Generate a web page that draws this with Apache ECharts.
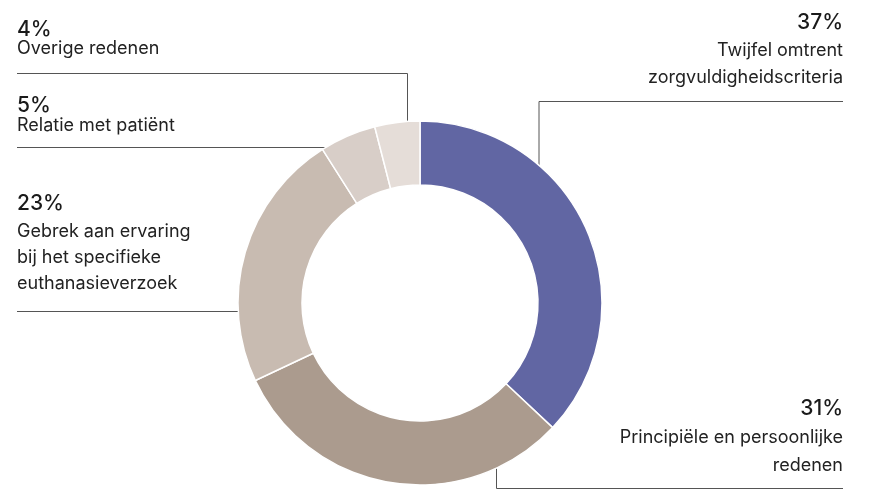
<!DOCTYPE html>
<html>
<head>
<meta charset="utf-8">
<script src="https://cdn.jsdelivr.net/npm/echarts@6/dist/echarts.min.js"></script>
<style>html,body{margin:0;padding:0;background:#fff}#c{width:869px;height:490px}</style>
</head>
<body>
<div id="c"></div>
<script>
// ---- data ----
var categories = [
  ['Twijfel omtrent', 'zorgvuldigheidscriteria'],
  ['Principiële en persoonlijke', 'redenen'],
  ['Gebrek aan ervaring', 'bij het specifieke', 'euthanasieverzoek'],
  ['Relatie met patiënt'],
  ['Overige redenen']
];
var values = [37, 31, 23, 5, 4];
var colors = ['#6166a3', '#ab9b8e', '#c8bbb1', '#d8cec8', '#e5ddd8'];

// ---- layout (not data) ----
var CX = 420, CY = 303, R_IN = 118, R_OUT = 182;
function topY(x){ return CY - Math.sqrt(R_OUT*R_OUT - (x-CX)*(x-CX)); }
function botY(x){ return CY + Math.sqrt(R_OUT*R_OUT - (x-CX)*(x-CX)); }
function leftX(y){ return CX - Math.sqrt(R_OUT*R_OUT - (y-CY)*(y-CY)); }
var layouts = [
  {x: 843, y: 9, align: 'right', pLH: 28, tLH: 27,
   line: [[539, topY(539)], [539, 101.5], [843, 101.5]]},
  {x: 843, y: 393.5, align: 'right', pLH: 30, tLH: 28,
   line: [[496.5, botY(496.5)], [496.5, 488.5], [843, 488.5]]},
  {x: 17, y: 189, align: 'left', pLH: 30, tLH: 26,
   line: [[leftX(311.5), 311.5], [120, 311.5], [17, 311.5]]},
  {x: 17, y: 95.5, align: 'left', pLH: 20, tLH: 20,
   line: [[leftX(147.5), 147.5], [150, 147.5], [17, 147.5]]},
  {x: 17, y: 19.5, align: 'left', pLH: 20, tLH: 18,
   line: [[407.5, topY(407.5)], [407.5, 73.5], [17, 73.5]]}
];

var FONT = 'Inter, "Noto Sans", sans-serif';
var data = values.map(function(v, i){
  var L = layouts[i];
  return {
    value: v,
    name: categories[i].join(' '),
    itemStyle: {color: colors[i]},
    label: {
      align: L.align,
      rich: {
        p: {fontSize: 21, fontWeight: 500, lineHeight: L.pLH, color: '#1a1a1a', fontFamily: FONT, align: L.align},
        t: {fontSize: 18, fontWeight: 400, lineHeight: L.tLH, color: '#222', fontFamily: FONT, align: L.align}
      }
    }
  };
});

var chart = echarts.init(document.getElementById('c'), null, {renderer: 'canvas'});
chart.setOption({
  animation: false,
  series: [{
    type: 'pie',
    center: [CX, CY],
    radius: [R_IN, R_OUT],
    startAngle: 90,
    clockwise: true,
    avoidLabelOverlap: false,
    emphasis: {disabled: true},
    itemStyle: {borderColor: '#fff', borderWidth: 1.5},
    label: {
      show: true,
      position: 'outside',
      fontFamily: FONT,
      formatter: function(p){
        var s = '{p|' + values[p.dataIndex] + '%}';
        categories[p.dataIndex].forEach(function(t){ s += '\n{t|' + t + '}'; });
        return s;
      }
    },
    labelLine: {show: true, lineStyle: {color: '#555', width: 1}},
    labelLayout: function(params){
      var L = layouts[params.dataIndex];
      return {
        x: L.x, y: L.y, align: L.align, verticalAlign: 'top',
        labelLinePoints: L.line
      };
    },
    data: data
  }]
});
</script>
</body>
</html>
